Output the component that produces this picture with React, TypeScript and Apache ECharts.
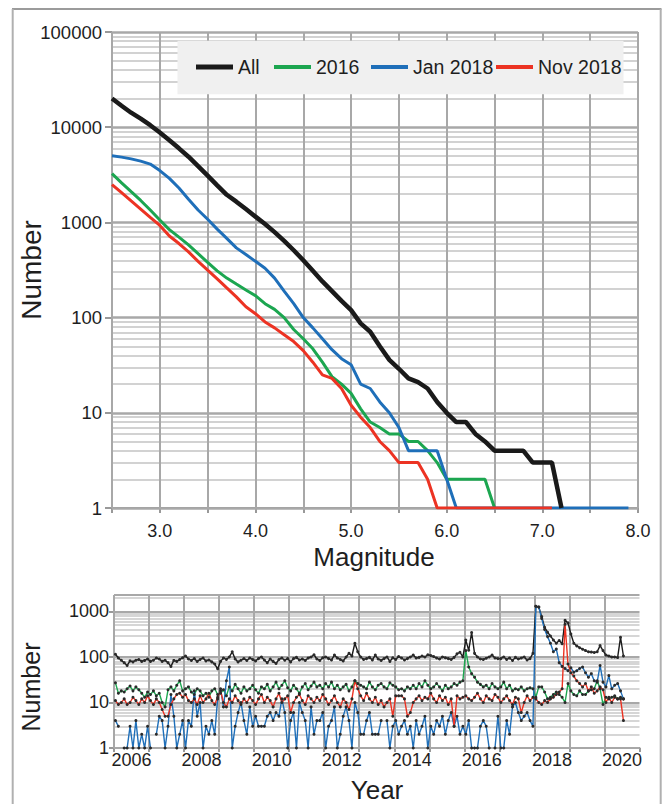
import React, { useEffect, useRef } from "react";
import * as echarts from "echarts";

// ---------- Top chart: cumulative counts by magnitude ----------
const magnitudes = [
  2.5, 2.6, 2.7, 2.8, 2.9, 3.0, 3.1, 3.2, 3.3, 3.4, 3.5, 3.6, 3.7, 3.8, 3.9,
  4.0, 4.1, 4.2, 4.3, 4.4, 4.5, 4.6, 4.7, 4.8, 4.9, 5.0, 5.1, 5.2, 5.3, 5.4,
  5.5, 5.6, 5.7, 5.8, 5.9, 6.0, 6.1, 6.2, 6.3, 6.4, 6.5, 6.6, 6.7, 6.8, 6.9,
  7.0, 7.1, 7.2, 7.3, 7.4, 7.5, 7.6, 7.7, 7.8, 7.9,
];
const countAll = [
  20000, 16800, 14200, 12300, 10500, 8800, 7300, 6000, 4900, 3900, 3100, 2450,
  1950, 1650, 1380, 1150, 960, 790, 640, 510, 400, 310, 240, 190, 150, 120, 87,
  71, 50, 36, 29, 23, 21, 18, 13, 10, 8, 8, 6, 5, 4, 4, 4, 4, 3, 3, 3, 1,
];
const count2016 = [
  3250, 2600, 2100, 1700, 1350, 1060, 840, 700, 580, 470, 380, 310, 260, 225,
  195, 170, 140, 122, 100, 75, 60, 47, 34, 24, 20, 16, 11, 8, 7, 6, 6, 5, 5, 4,
  3, 2, 2, 2, 2, 2, 1,
];
const countJan2018 = [
  5000, 4850, 4650, 4400, 4100, 3500, 2900, 2300, 1750, 1350, 1080, 850, 680,
  540, 460, 390, 330, 260, 190, 140, 100, 78, 60, 46, 37, 32, 20, 18, 13, 10, 7,
  4, 4, 4, 4, 2, 1, 1, 1, 1, 1, 1, 1, 1, 1, 1, 1, 1, 1, 1, 1, 1, 1, 1, 1,
];
const countNov2018 = [
  2500, 2050, 1680, 1380, 1130, 930, 720, 600, 490, 390, 315, 255, 205, 165,
  130, 110, 90, 78, 66, 56, 45, 34, 25, 23, 18, 12, 9, 7, 5, 4, 3, 3, 3, 2, 1,
  1, 1, 1, 1, 1, 1, 1, 1, 1, 1, 1, 1,
];
const legendNames = ["All", "2016", "Jan 2018", "Nov 2018"];
const seriesColors = ["#1a1a1a", "#1ca650", "#1f6fb9", "#ec3323"];
const magnitudeTicks = [2.5, 3.0, 3.5, 4.0, 4.5, 5.0, 5.5, 6.0, 6.5, 7.0, 7.5, 8.0];
const topDecades = [1, 10, 100, 1000, 10000, 100000];
const topMinor = [
  2, 3, 4, 5, 6, 7, 8, 9, 20, 30, 40, 50, 60, 70, 80, 90, 200, 300, 400, 500,
  600, 700, 800, 900, 2000, 3000, 4000, 5000, 6000, 7000, 8000, 9000, 20000,
  30000, 40000, 50000, 60000, 70000, 80000, 90000,
];

// ---------- Bottom chart: monthly counts, Jan 2006 .. Jul 2020 ----------
const firstYear = 2006;
const monthlyAll = [
  115, 95, 85, 75, 65, 82, 78, 85, 88, 80, 84, 90,
  80, 85, 95, 90, 80, 85, 75, 62, 84, 80, 88, 96,
  105, 90, 84, 92, 80, 88, 95, 82, 86, 78, 70, 55,
  80, 95, 88, 100, 130, 90, 78, 85, 92, 84, 95, 88,
  82, 92, 100, 86, 75, 90, 80, 72, 88, 95, 85, 92,
  78, 92, 98, 86, 90, 84, 95, 100, 112, 90, 84, 96,
  100, 92, 86, 110, 95, 88, 82, 100, 120, 105, 200, 130,
  100, 88, 92, 98, 86, 110, 90, 84, 92, 100, 80, 96,
  88, 102, 95, 86, 92, 100, 110, 95, 98, 105, 100, 112,
  108, 102, 95, 90, 100, 96, 92, 88, 98, 117, 127, 100,
  235, 140, 346, 120, 100, 90, 88, 94, 100, 110, 95, 92,
  92, 100, 88, 95, 84, 98, 90, 95, 100, 86, 92, 120,
  1300, 1250, 770, 450, 350, 290, 235, 200, 230, 195, 640, 560,
  320, 200, 175, 160, 148, 138, 130, 128, 125, 130, 178, 138,
  110, 105, 100, 100, 97, 270, 105,
];
const monthly2016 = [
  27, 16, 18, 17, 20, 23, 18, 22, 19, 16, 13, 17,
  15, 18, 14, 16, 10, 8, 19, 22, 18, 24, 30, 18,
  20, 22, 17, 15, 20, 18, 14, 16, 13, 18, 20, 15,
  16, 19, 14, 22, 18, 25, 20, 16, 22, 18, 20, 24,
  19, 16, 22, 20, 25, 18, 22, 28, 20, 24, 30, 21,
  18, 24, 20, 16, 22, 26, 19, 23, 28, 22, 24, 20,
  26, 22, 28, 20, 24, 19, 22, 25, 18, 22, 30, 26,
  24, 22, 20, 28, 22, 19, 24, 26, 22, 20, 27, 24,
  22, 19, 20, 18, 22, 20, 24, 20, 26, 22, 30, 24,
  20, 22, 26, 22, 18, 24, 20, 22, 26, 24, 28, 30,
  138, 60, 43, 36, 28, 25, 22, 24, 20, 26, 22, 20,
  22, 28, 20, 24, 18, 20, 19, 22, 18, 20, 21, 20,
  13, 22, 22, 17, 12, 13, 15, 17, 15, 13, 10, 26,
  18, 15, 14, 18, 15, 15, 18, 19, 20, 30, 20, 9,
  13, 12, 13, 14, 12, 13, 12,
];
const monthlyJan2018 = [
  4, 3, null, 1, 1, 3, 1, 4, 1, 2, 1, 3,
  1, null, 2, 5, 4, 1, 3, 15, 5, 1, 2, 4,
  1, 4, 3, 18, 5, 10, 1, 3, 2, 4, 2, 12,
  20, 8, 30, 60, 1, 3, 6, 10, 4, 2, 8, 3,
  5, 3, 3, 3, 5, 6, 4, 6, 5, 12, 6, 1,
  4, 6, 1, 10, 6, 4, 1, 8, 2, 4, 4, 6,
  1, 3, 4, 8, 1, 2, 5, 8, 4, 1, 10, 6,
  2, 2, 4, 6, 2, 2, 2, 4, null, 4, 1, 3,
  4, 2, 3, 4, 2, 3, 1, 4, 2, 3, 5, 1,
  3, 2, 4, 3, 5, 2, 4, 6, 3, 5, 2, 3,
  2, 4, 1, 1, 1, 3, 4, 3, 1, null, 1, 5,
  1, 1, 4, 2, 8, 10, 6, 4, 5, 6, 4, 3,
  1300, 1250, 700, 400, 280, 200, 130, 150, 75, 62, 56, 50,
  58, 46, 50, 56, 60, 45, 36, 43, 30, 28, 65, 28,
  22, 39, 20, 24, 26, 18, 12,
];
const monthlyNov2018 = [
  11, 9, 10, 12, 9, 10, 13, 11, 9, 12, 10, 14,
  11, 9, 12, 10, 7, 5, 5, 9, 12, 15, 16, 13,
  15, 11, 10, 12, 9, 14, 10, 12, 16, 11, 9, 13,
  18, 10, 8, 12, 10, 14, 11, 9, 12, 10, 13, 11,
  9, 12, 15, 10, 13, 11, 8, 12, 16, 10, 12, 14,
  6, 10, 13, 15, 11, 9, 14, 12, 10, 13, 11, 15,
  12, 9, 11, 14, 10, 8, 12, 10, 7, 12, 30, 20,
  14, 11, 16, 12, 10, 13, 9, 11, 8, 10, 12, 5,
  14, 14, 14, 12, 5, 6, 10, 12, 14, 11, 13, 12,
  16, 12, 10, 14, 11, 13, 9, 12, 3, 14, 12, 13,
  14, 12, 11, 13, 16, 12, 10, 14, 12, 11, 15, 13,
  10, 12, 14, 11, 9, 13, 12, 6, 10, 14, 11, 13,
  12, 10, 9, 11, 10, 12, 13, 15, 17, 20, 525, 70,
  45, 38, 30, 26, 22, 26, 18, 22, 16, 18, 22, 19,
  10, 13, 10, 13, 12, 12, 4,
];
const yearGridLines = [2006, 2007, 2008, 2009, 2010, 2011, 2012, 2013, 2014, 2015, 2016, 2017, 2018, 2019, 2020];
const yearLabelYears = [2006, 2008, 2010, 2012, 2014, 2016, 2018, 2020];
const bottomDecades = [1, 10, 100, 1000];
const bottomMinor = [2, 3, 4, 5, 6, 7, 8, 9, 20, 30, 40, 50, 60, 70, 80, 90, 200, 300, 400, 500, 600, 700, 800, 900, 2000];
const bottomMax = 2300;

const FONT = "'Liberation Sans', Arial, Helvetica, sans-serif";
const TEXT = "#1e1e1e";

function decadeLabel(v: number) {
  const l = Math.log10(v);
  return Math.abs(l - Math.round(l)) < 1e-6 ? String(Math.round(v)) : "";
}

function gridSeries(
  idx: number,
  minor: number[],
  major: number[],
  verticals: number[],
  minorStyle: any,
  majorStyle: any,
  vertStyle: any
) {
  const data: any[] = [];
  minor.forEach((v) => data.push({ yAxis: v, lineStyle: minorStyle }));
  major.forEach((v) => data.push({ yAxis: v, lineStyle: majorStyle }));
  verticals.forEach((v) => data.push({ xAxis: v, lineStyle: vertStyle }));
  return {
    type: "line",
    name: "grid" + idx,
    xAxisIndex: idx,
    yAxisIndex: idx,
    data: [],
    silent: true,
    z: 1,
    markLine: {
      silent: true,
      z: 1,
      symbol: ["none", "none"],
      label: { show: false },
      emphasis: { disabled: true },
      lineStyle: { type: "solid" },
      animation: false,
      data,
    },
  };
}

export default function App() {
  const ref = useRef<HTMLDivElement>(null);
  useEffect(() => {
    if (!ref.current) return;
    const chart = echarts.init(ref.current, undefined, { renderer: "svg" });

    const topData = [countAll, count2016, countJan2018, countNov2018].map((arr) =>
      arr.map((v, i) => [magnitudes[i], v])
    );
    const toMonthly = (arr: (number | null)[]) =>
      arr.map((v, i) => [firstYear + (i + 0.5) / 12, v]);

    const topOrder = [1, 2, 3, 0]; // draw green, blue, red, then black
    const topSeries = topOrder.map((k) => ({
      type: "line",
      name: legendNames[k],
      xAxisIndex: 0,
      yAxisIndex: 0,
      data: topData[k],
      symbol: "none",
      color: seriesColors[k],
      lineStyle: { color: seriesColors[k], width: k === 0 ? 4.5 : 3 },
      z: 5,
    }));

    const bottomArrays = [monthlyAll, monthly2016, monthlyJan2018, monthlyNov2018];
    const bottomOrder = [0, 1, 2, 3];
    const bottomSeries = bottomOrder.map((k) => ({
      type: "line",
      name: legendNames[k] + " monthly",
      xAxisIndex: 1,
      yAxisIndex: 1,
      data: toMonthly(bottomArrays[k]),
      symbol: "circle",
      symbolSize: 3,
      showSymbol: true,
      color: seriesColors[k],
      itemStyle: { color: "#2a2a2a" },
      lineStyle: { color: seriesColors[k], width: 1.4 },
      z: 5,
    }));

    const legendLeft = [196, 274, 371, 496];
    const legends = legendNames.map((n, k) => ({
      data: [n],
      left: legendLeft[k],
      top: 57,
      padding: 0,
      selectedMode: false,
      icon: "rect",
      itemWidth: 37,
      itemHeight: k === 0 ? 5 : 4,
      textStyle: { fontSize: 19.5, color: TEXT, fontFamily: FONT },
    }));

    const axisTitle = (text: string, x: number, y: number, rot: number, size: number) => ({
      type: "text",
      x,
      y,
      rotation: rot,
      z: 10,
      style: {
        text,
        font: `${size}px ${FONT}`,
        fill: TEXT,
        align: "center",
        verticalAlign: "middle",
        textAlign: "center",
        textVerticalAlign: "middle",
      },
    });

    chart.setOption({
      animation: false,
      backgroundColor: "#ffffff",
      textStyle: { fontFamily: FONT },
      grid: [
        { left: 112, top: 32, width: 526, height: 476 },
        { left: 114, top: 595, width: 525.5, height: 153 },
      ],
      legend: legends,
      xAxis: [
        {
          type: "value",
          gridIndex: 0,
          min: 2.5,
          max: 8.0,
          interval: 0.5,
          axisLine: { show: true, lineStyle: { color: "#999", width: 2 } },
          axisTick: { show: true, length: 5, lineStyle: { color: "#999", width: 2 } },
          axisLabel: {
            fontSize: 18,
            color: TEXT,
            margin: 14,
            fontFamily: FONT,
            formatter: (v: number) =>
              Math.abs(v - Math.round(v)) < 1e-6 ? v.toFixed(1) : "",
          },
          splitLine: { show: false },
        },
        {
          type: "value",
          gridIndex: 1,
          min: 2006,
          max: 2021,
          interval: 1,
          axisLine: { show: true, lineStyle: { color: "#999", width: 2 } },
          axisTick: { show: true, length: 4, lineStyle: { color: "#999", width: 2 } },
          axisLabel: {
            fontSize: 18,
            color: TEXT,
            margin: 3,
            fontFamily: FONT,
            customValues: yearLabelYears.map((y) => y + 0.5),
            formatter: (v: number) => String(Math.floor(v)),
          },
          splitLine: { show: false },
        },
      ],
      yAxis: [
        {
          type: "log",
          logBase: 10,
          gridIndex: 0,
          min: 1,
          max: 100000,
          axisLine: { show: false },
          axisTick: { show: true, length: 7, lineStyle: { color: "#999", width: 2 } },
          axisLabel: { fontSize: 18.5, color: TEXT, margin: 10, fontFamily: FONT, formatter: decadeLabel },
          splitLine: { show: false },
        },
        {
          type: "log",
          logBase: 10,
          gridIndex: 1,
          min: 1,
          max: bottomMax,
          axisLine: { show: false },
          axisTick: { show: true, length: 5, lineStyle: { color: "#999", width: 2 } },
          axisLabel: {
            fontSize: 18,
            color: TEXT,
            margin: 5,
            fontFamily: FONT,
            formatter: decadeLabel,
            showMaxLabel: false,
          },
          splitLine: { show: false },
        },
      ],
      series: [
        gridSeries(
          0,
          topMinor,
          topDecades,
          magnitudeTicks,
          { color: "#d2d2d2", width: 2, type: "solid" },
          { color: "#a8a8a8", width: 2.5, type: "solid" },
          { color: "#a8a8a8", width: 2, type: "solid" }
        ),
        gridSeries(
          1,
          bottomMinor,
          [...bottomDecades, bottomMax],
          yearGridLines,
          { color: "#c9c9c9", width: 1.5, type: "solid" },
          { color: "#a8a8a8", width: 2, type: "solid" },
          { color: "#a8a8a8", width: 2, type: "solid" }
        ),
        ...topSeries,
        ...bottomSeries,
      ],
      graphic: [
        {
          type: "rect",
          z: 3,
          shape: { x: 177.5, y: 40.7, width: 446, height: 53.6 },
          style: { fill: "#f0f0f0" },
        },
        { type: "line", z: 10, shape: { x1: 12, y1: 9, x2: 661.5, y2: 9 }, style: { stroke: "#7a7a7a", lineWidth: 1.5 } },
        { type: "line", z: 10, shape: { x1: 12.7, y1: 9, x2: 12.7, y2: 804 }, style: { stroke: "#b0b0b0", lineWidth: 2 } },
        { type: "line", z: 10, shape: { x1: 660.7, y1: 9, x2: 660.7, y2: 804 }, style: { stroke: "#b0b0b0", lineWidth: 2 } },
        axisTitle("Magnitude", 374, 557, 0, 26),
        axisTitle("Number", 31, 270, Math.PI / 2, 28),
        axisTitle("Year", 377, 790, 0, 26),
        axisTitle("Number", 31, 687, Math.PI / 2, 25),
      ],
    });

    return () => chart.dispose();
  }, []);

  return (
    <div
      ref={ref}
      style={{ position: "fixed", left: 0, top: 0, width: 666, height: 804, background: "#fff" }}
    />
  );
}
